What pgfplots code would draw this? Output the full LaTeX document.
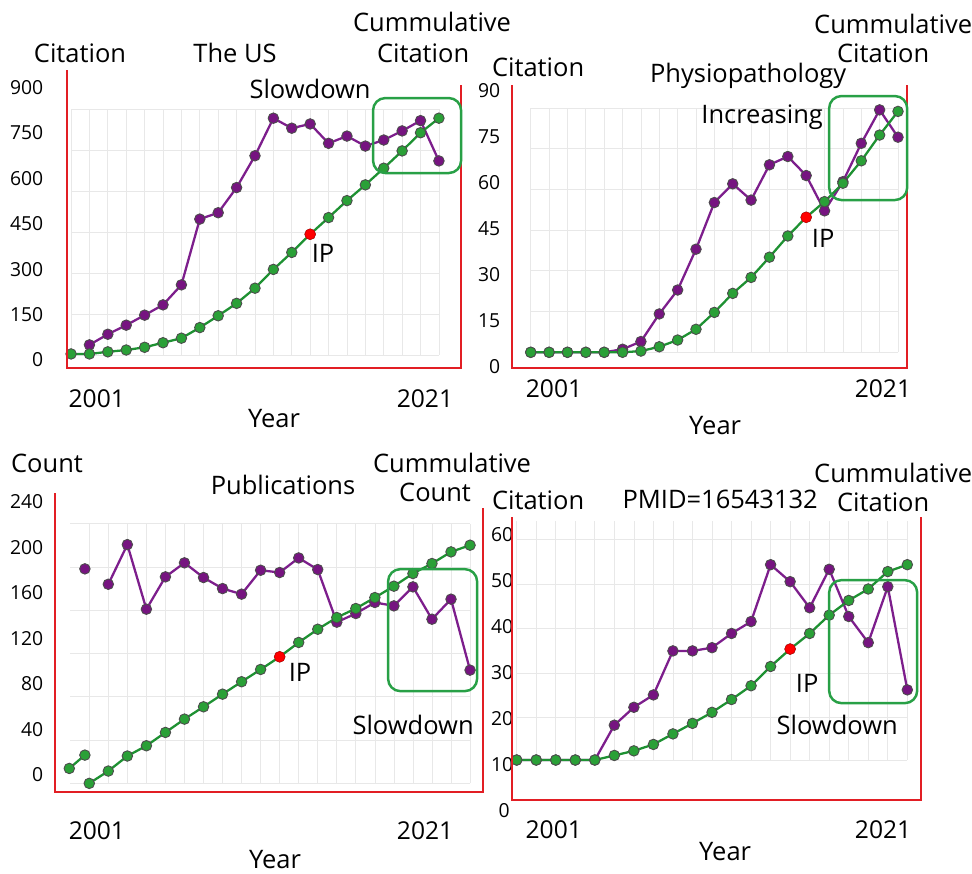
\documentclass[border=0pt]{standalone}
\usepackage{pgfplots}
\pgfplotsset{compat=1.18}
\usepackage{fontspec}
\setmainfont{Open Sans}
\definecolor{pur}{RGB}{125,30,140}
\definecolor{purf}{RGB}{118,20,128}
\definecolor{grn}{RGB}{30,145,50}
\definecolor{grnf}{RGB}{42,160,55}
\definecolor{frame}{RGB}{226,30,36}
\definecolor{boxg}{RGB}{40,160,70}
\definecolor{gridc}{RGB}{232,232,232}
\pgfplotsset{
 panel/.style={scale only axis, axis line style={draw=none}, major tick length=0pt, clip=false,
   /pgf/number format/assume math mode=true, /pgf/number format/1000 sep={},
   xticklabel style={font=\fontsize{14}{16}\selectfont},
   yticklabel style={font=\fontsize{11}{13}\selectfont},
   anchor=south west},
 purp/.style={pur, line width=1.3pt, mark=*, mark size=3.0pt, mark options={fill=purf, draw=black!70, line width=0.5pt}},
 gren/.style={grn, line width=1.3pt, mark=*, mark size=3.0pt, mark options={fill=grnf, draw=black!70, line width=0.5pt}},
 ipm/.style={only marks, mark=*, mark size=3.0pt, mark options={fill=red, draw=red!85!black}},
}
\begin{document}
\begin{tikzpicture}
\useasboundingbox (0cm,0cm) rectangle (19.44cm,-17.48cm);
% ---------- Panel 1
\begin{axis}[panel, at={(1.34cm,-7.36cm)}, width=7.88cm, height=5.96cm,
  xmin=2000.78, xmax=2022.2, ymin=-26.4, ymax=957,
  xtick={2002.4,2020.24}, xticklabels={2001,2021}, xticklabel style={yshift=-0.3cm},
  ytick={0,150,...,900}, yticklabel style={xshift=-0.35cm}]
\pgfplotsinvokeforeach{2001,...,2021}{\draw[gridc] (axis cs:#1,16) -- (axis cs:#1,827);}
\pgfplotsinvokeforeach{16,151,287,422,557,692,827}{\draw[gridc] (axis cs:2001,#1) -- (axis cs:2021,#1);}
\addplot[purp] coordinates {(2002,50)(2003,85)(2004,115)(2005,148)(2006,182)(2007,248)(2008,465)(2009,486)(2010,569)(2011,674)(2012,798)(2013,765)(2014,779)(2015,715)(2016,739)(2017,706)(2018,726)(2019,756)(2020,790)(2021,657)};
\addplot[gren] coordinates {(2001,20)(2002,20)(2003,27)(2004,33)(2005,42)(2006,57)(2007,72)(2008,107)(2009,146)(2010,187)(2011,237)(2012,299)(2013,355)(2014,415)(2015,470)(2016,526)(2017,578)(2018,633)(2019,690)(2020,750)(2021,798)};
\addplot[ipm] coordinates {(2014,415)};
\end{axis}
% ---------- Panel 2
\begin{axis}[panel, at={(10.24cm,-7.36cm)}, width=7.90cm, height=5.66cm,
  xmin=1999.98, xmax=2021.49, ymin=-0.42, ymax=91.8,
  xtick={2002.27,2020.18}, xticklabels={2001,2021}, xticklabel style={yshift=-0.1cm},
  ytick={0,15,...,90}, yticklabel style={xshift=-0.11cm}]
\pgfplotsinvokeforeach{2001,...,2021}{\draw[gridc] (axis cs:#1,4.7) -- (axis cs:#1,84.2);}
\pgfplotsinvokeforeach{4.7,18,31.3,44.6,57.8,71,84.2}{\draw[gridc] (axis cs:2001,#1) -- (axis cs:2021,#1);}
\addplot[purp] coordinates {(2001,4.7)(2002,4.7)(2003,4.7)(2004,4.7)(2005,4.7)(2006,5.7)(2007,8.2)(2008,17.2)(2009,25)(2010,38.3)(2011,53.5)(2012,59.6)(2013,54.3)(2014,65.8)(2015,68.5)(2016,62.3)(2017,50.8)(2018,60.3)(2019,72.8)(2020,83.7)(2021,74.8)};
\addplot[gren] coordinates {(2001,4.7)(2002,4.7)(2003,4.7)(2004,4.7)(2005,4.7)(2006,4.7)(2007,5.1)(2008,6.5)(2009,8.7)(2010,12.2)(2011,17.7)(2012,23.9)(2013,29.1)(2014,35.7)(2015,42.6)(2016,48.7)(2017,53.8)(2018,59.8)(2019,67.1)(2020,75.5)(2021,83.2)};
\addplot[ipm] coordinates {(2016,48.7)};
\end{axis}
% ---------- Panel 3
\begin{axis}[panel, at={(1.10cm,-15.84cm)}, width=8.56cm, height=5.98cm,
  xmin=1999.2, xmax=2021.68, ymin=-14.9, ymax=247.6,
  xtick={2001.4,2018.64}, xticklabels={2001,2021}, xticklabel style={yshift=-0.46cm},
  ytick={0,40,...,240}, yticklabel style={xshift=-0.11cm}]
\pgfplotsinvokeforeach{2001,...,2021}{\draw[gridc] (axis cs:#1,-7.3) -- (axis cs:#1,220.8);}
\pgfplotsinvokeforeach{-7.3,30.7,68.7,106.7,144.7,182.7,220.8}{\draw[gridc] (axis cs:2000,#1) -- (axis cs:2021,#1);}
\addplot[purp] coordinates {(2002,167.5)(2003,202.3)(2004,145.6)(2005,174)(2006,186.3)(2007,173.4)(2008,163.7)(2009,158.8)(2010,179.8)(2011,177.8)(2012,190.6)(2013,180.4)(2014,134.2)(2015,141.8)(2016,151.5)(2017,148.5)(2018,165.2)(2019,136.8)(2020,154.4)(2021,92.1)};
\addplot[purp] coordinates {(2000.77,181)};
\addplot[gren] coordinates {(2001,-7.3)(2002,3.5)(2003,16.7)(2004,25.7)(2005,37.4)(2006,49.1)(2007,59.9)(2008,71)(2009,81.9)(2010,92.7)(2011,103.8)(2012,116.4)(2013,128)(2014,138.3)(2015,146.2)(2016,155.8)(2017,165.8)(2018,176.9)(2019,185.7)(2020,195.9)(2021,201.8)};
\addplot[gren] coordinates {(1999.95,5.8)(2000.77,17.5)};
\addplot[ipm] coordinates {(2011,103.8)};
\end{axis}
% ---------- Panel 4
\begin{axis}[panel, at={(10.24cm,-16.00cm)}, width=8.18cm, height=5.66cm,
  xmin=2000.76, xmax=2021.70, ymin=2.18, ymax=63.9,
  xtick={2002.9,2019.76}, xticklabels={2001,2021}, xticklabel style={yshift=-0.28cm},
  ytick={10,20,...,60}, yticklabel style={xshift=0.15cm}]
\pgfplotsinvokeforeach{2001,...,2021}{\draw[gridc] (axis cs:#1,10.9) -- (axis cs:#1,63);}
\pgfplotsinvokeforeach{10.9,20.2,29.9,39.6,49.3,59}{\draw[gridc] (axis cs:2001,#1) -- (axis cs:2021,#1);}
\addplot[purp] coordinates {(2001,10.9)(2002,10.9)(2003,10.9)(2004,10.9)(2005,10.9)(2006,18.5)(2007,22.4)(2008,25.1)(2009,34.7)(2010,34.7)(2011,35.4)(2012,38.5)(2013,41.1)(2014,53.5)(2015,49.8)(2016,44.1)(2017,52.5)(2018,42.2)(2019,36.5)(2020,48.7)(2021,26.2)};
\addplot[gren] coordinates {(2001,10.9)(2002,10.9)(2003,10.9)(2004,10.9)(2005,10.9)(2006,11.9)(2007,12.9)(2008,14.3)(2009,16.6)(2010,18.9)(2011,21.3)(2012,24.1)(2013,27.1)(2014,31.3)(2015,35.1)(2016,38.5)(2017,42.5)(2018,45.7)(2019,48.2)(2020,52.0)(2021,53.5)};
\addplot[ipm] coordinates {(2015,35.1)};
\end{axis}
% ---------- frames, boxes, text
\begin{scope}[x=0.02cm,y=-0.02cm, every node/.style={font=\fontsize{14.5}{17}\selectfont, inner sep=0pt}]
\draw[frame, line width=1.2pt] (67,70) -- (67,368) -- (461,368) -- (461,85);
\draw[frame, line width=1.2pt] (512,85) -- (512,368) -- (907,368) -- (907,85);
\draw[frame, line width=1.2pt] (55,493) -- (55,792) -- (483,792) -- (483,508);
\draw[frame, line width=1.2pt] (512,517) -- (512,800) -- (921,800) -- (921,517);
\draw[boxg, line width=1.4pt, rounded corners=7pt] (373,98) rectangle (461,173);
\draw[boxg, line width=1.4pt, rounded corners=7pt] (829,96) rectangle (907,200);
\draw[boxg, line width=1.4pt, rounded corners=7pt] (388,569) rectangle (477,691);
\draw[boxg, line width=1.4pt, rounded corners=7pt] (829,580) rectangle (917,703);
% panel 1
\node at (80,53) {Citation};
\node at (235,53) {The US};
\node at (432,22) {Cummulative};
\node at (423,53) {Citation};
\node at (310,89) {Slowdown};
\node at (323,253) {IP};
\node at (274,418) {Year};
% panel 2
\node at (538,67) {Citation};
\node at (748,76) {Physiopathology};
\node at (893,24) {Cummulative};
\node at (883,53) {Citation};
\node at (762,117) {Increasing};
\node at (823,238) {IP};
\node at (715,425) {Year};
% panel 3
\node at (47,463) {Count};
\node at (283,485) {Publications};
\node at (452,463) {Cummulative};
\node at (435,492) {Count};
\node at (300,672) {IP};
\node at (413,725) {Slowdown};
\node at (275,859) {Year};
% panel 4
\node at (538,500) {Citation};
\node at (720,499) {PMID=16543132};
\node at (893,473) {Cummulative};
\node at (883,502) {Citation};
\node at (807,683) {IP};
\node at (837,725) {Slowdown};
\node at (725,851) {Year};
\node[font=\fontsize{11}{13}\selectfont] at (504,810) {0};
\end{scope}
\end{tikzpicture}
\end{document}
